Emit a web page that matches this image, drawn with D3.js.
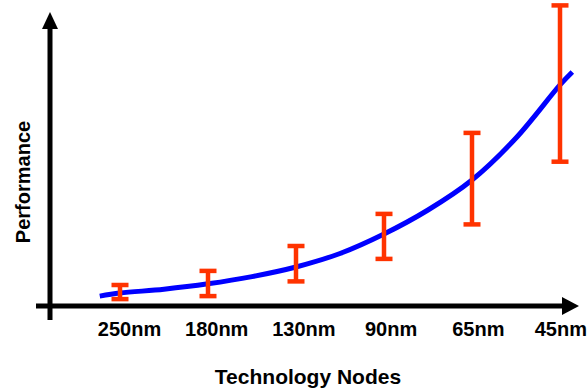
<!DOCTYPE html>
<html>
<head>
<meta charset="utf-8">
<script src="https://cdn.jsdelivr.net/npm/d3@7"></script>
<style>
  html, body { margin: 0; padding: 0; background: #fff; overflow: hidden; }
  svg { display: block; }
  text { font-family: "Liberation Sans", Arial, Helvetica, sans-serif; font-weight: bold; fill: #000; }
</style>
</head>
<body>
<svg id="chart" width="588" height="392"></svg>
<script>
// ---- data ----
const nodes = ["250nm", "180nm", "130nm", "90nm", "65nm", "45nm"];
const perfLow  = [0.23, 0.33, 0.82, 1.57, 2.72, 4.81];
const perfHigh = [0.70, 1.17, 2.00, 3.07, 5.77, 10.02];
// smooth trend curve: position along node axis (index units) and performance
const trendPos = [-0.23, 0, 0.5, 1, 1.5, 2, 2.5, 3, 3.5, 4, 4.5, 5, 5.14];
const trendVal = [0.33, 0.43, 0.56, 0.74, 0.98, 1.3, 1.75, 2.4, 3.2, 4.2, 5.6, 7.37, 7.8];
const xTitle = "Technology Nodes";
const yTitle = "Performance";

// ---- drawing ----
const W = 588;
const svg = d3.select("#chart");
const red = "#ff3300", blue = "#0000ff";

const x = d3.scaleLinear().domain([0, nodes.length - 1]).range([120, 560]);
const xLabel = d3.scalePoint().domain(nodes).range([129, 565]);
const y = d3.scaleLinear().domain([0, 10]).range([306, 6]);

// axes lines with arrows
svg.append("line").attr("x1", 50).attr("x2", 50).attr("y1", 320).attr("y2", 26)
  .attr("stroke", "#000").attr("stroke-width", 5);
svg.append("path").attr("d", "M50,12 L58,29 L42,29 Z").attr("fill", "#000");
svg.append("line").attr("x1", 36).attr("x2", 564).attr("y1", y(0)).attr("y2", y(0))
  .attr("stroke", "#000").attr("stroke-width", 5);
svg.append("path").attr("d", `M579,${y(0)} L562,${y(0) - 9} L562,${y(0) + 9} Z`).attr("fill", "#000");

// x tick labels via d3 axis
const ax = svg.append("g").attr("transform", `translate(0,${y(0)})`)
  .call(d3.axisBottom(xLabel).tickSize(0));
ax.select(".domain").remove();
ax.selectAll("text")
  .attr("y", 30).attr("dy", null)
  .style("font-size", "20px").style("font-weight", "bold")
  .style("font-family", '"Liberation Sans", Arial, sans-serif')
  .attr("fill", "#000");
// keep labels inside the picture
ax.selectAll(".tick").each(function () {
  const t = d3.select(this).select("text");
  const b = this.getBBox();
  const m = this.transform.baseVal.consolidate().matrix;
  const right = m.e + b.x + b.width;
  if (right > W - 1) t.attr("x", (W - 1) - right);
});

// trend curve
const line = d3.line()
  .x((d, i) => x(trendPos[i]))
  .y(d => y(d))
  .curve(d3.curveCatmullRom.alpha(0.5));
svg.append("path").datum(trendVal).attr("d", line)
  .attr("fill", "none").attr("stroke", blue).attr("stroke-width", 5);

// error bars
const capW = 8.5;
const eb = svg.append("g").attr("stroke", red).attr("stroke-width", 4.5).attr("fill", "none");
nodes.forEach((n, i) => {
  const cx = x(i);
  eb.append("line").attr("x1", cx).attr("x2", cx).attr("y1", y(perfLow[i])).attr("y2", y(perfHigh[i]));
  eb.append("line").attr("x1", cx - capW).attr("x2", cx + capW).attr("y1", y(perfHigh[i])).attr("y2", y(perfHigh[i]));
  eb.append("line").attr("x1", cx - capW).attr("x2", cx + capW).attr("y1", y(perfLow[i])).attr("y2", y(perfLow[i]));
});

// titles
svg.append("text").attr("x", 308).attr("y", 384).attr("text-anchor", "middle")
  .style("font-size", "21px").text(xTitle);
svg.append("text").attr("transform", "translate(30,182) rotate(-90)").attr("text-anchor", "middle")
  .style("font-size", "20px").text(yTitle);
</script>
</body>
</html>
